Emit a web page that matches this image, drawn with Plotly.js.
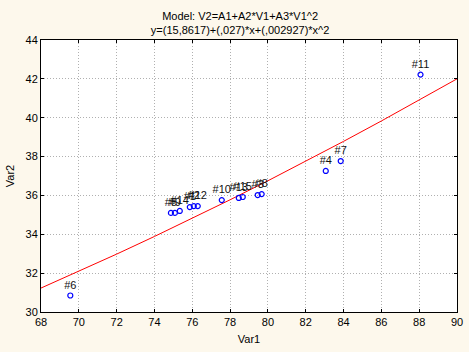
<!DOCTYPE html>
<html><head><meta charset="utf-8">
<script src="https://cdn.plot.ly/plotly-3.0.1.min.js"></script>
<style>html,body{margin:0;padding:0;background:#fdf8ec;}</style>
</head><body><div id="chart" style="width:469px;height:352px;"></div>
<script>
// Data
const caseLabels = ["#6","#5","#9","#14","#1","#2","#12","#10","#13","#15","#3","#8","#4","#7","#11"];
const var1 = [69.55, 74.87, 75.08, 75.34, 75.87, 76.08, 76.29, 77.56, 78.46, 78.67, 79.46, 79.67, 83.06, 83.85, 88.07];
const var2 = [30.85, 35.10, 35.10, 35.20, 35.40, 35.45, 35.45, 35.76, 35.87, 35.92, 36.02, 36.07, 37.26, 37.77, 42.22];
// Fitted model coefficients (from the title): y = A1 + A2*x + A3*x^2
const coef = [15.8617, 0.027, 0.002927];
const fitX = [68, 70, 72, 74, 76, 78, 80, 82, 84, 86, 88, 90];
const fitY = fitX.map(x => coef[0] + coef[1]*x + coef[2]*x*x);
const xTicks = [68,70,72,74,76,78,80,82,84,86,88,90];
const yTicks = [30,32,34,36,38,40,42,44];

const FONT = 'Arial, Liberation Sans, sans-serif';
const traces = [
  {x: fitX, y: fitY, mode: 'lines', line: {color: '#ff0000', width: 1}, hoverinfo: 'skip'},
  {x: var1, y: var2, mode: 'markers+text', text: caseLabels, textposition: 'top center',
   textfont: {family: FONT, size: 11, color: '#111'},
   marker: {symbol: 'circle-open', size: 5, color: '#0000ff', line: {width: 1.2, color: '#0000ff'}}}
];
const axisCommon = {
  showline: true, linecolor: '#000', linewidth: 1, mirror: 'ticks',
  ticks: 'inside', ticklen: 3, tickcolor: '#000',
  showgrid: true, gridcolor: '#b0b0b0', griddash: '1px,2px', gridwidth: 1,
  zeroline: false, tickfont: {family: FONT, size: 11, color: '#000'}
};
const layout = {
  width: 469, height: 352,
  paper_bgcolor: '#fdf8ec', plot_bgcolor: '#ffffff',
  margin: {l: 41, r: 12, t: 40, b: 40},
  showlegend: false,
  title: {text: 'Model: V2=A1+A2*V1+A3*V1^2<br>y=(15,8617)+(,027)*x+(,002927)*x^2',
    x: 0.512, xref: 'container', y: 0.943, yref: 'container', yanchor: 'top',
    font: {family: FONT, size: 11, color: '#000'}},
  xaxis: Object.assign({}, axisCommon, {range: [68, 90], tickvals: xTicks,
    title: {text: 'Var1', standoff: 8, font: {family: FONT, size: 11, color: '#000'}}}),
  yaxis: Object.assign({}, axisCommon, {range: [30, 44], tickvals: yTicks,
    title: {text: 'Var2', standoff: 8, font: {family: FONT, size: 11, color: '#000'}}})
};
Plotly.newPlot('chart', traces, layout, {displayModeBar: false, staticPlot: true});
</script></body></html>
